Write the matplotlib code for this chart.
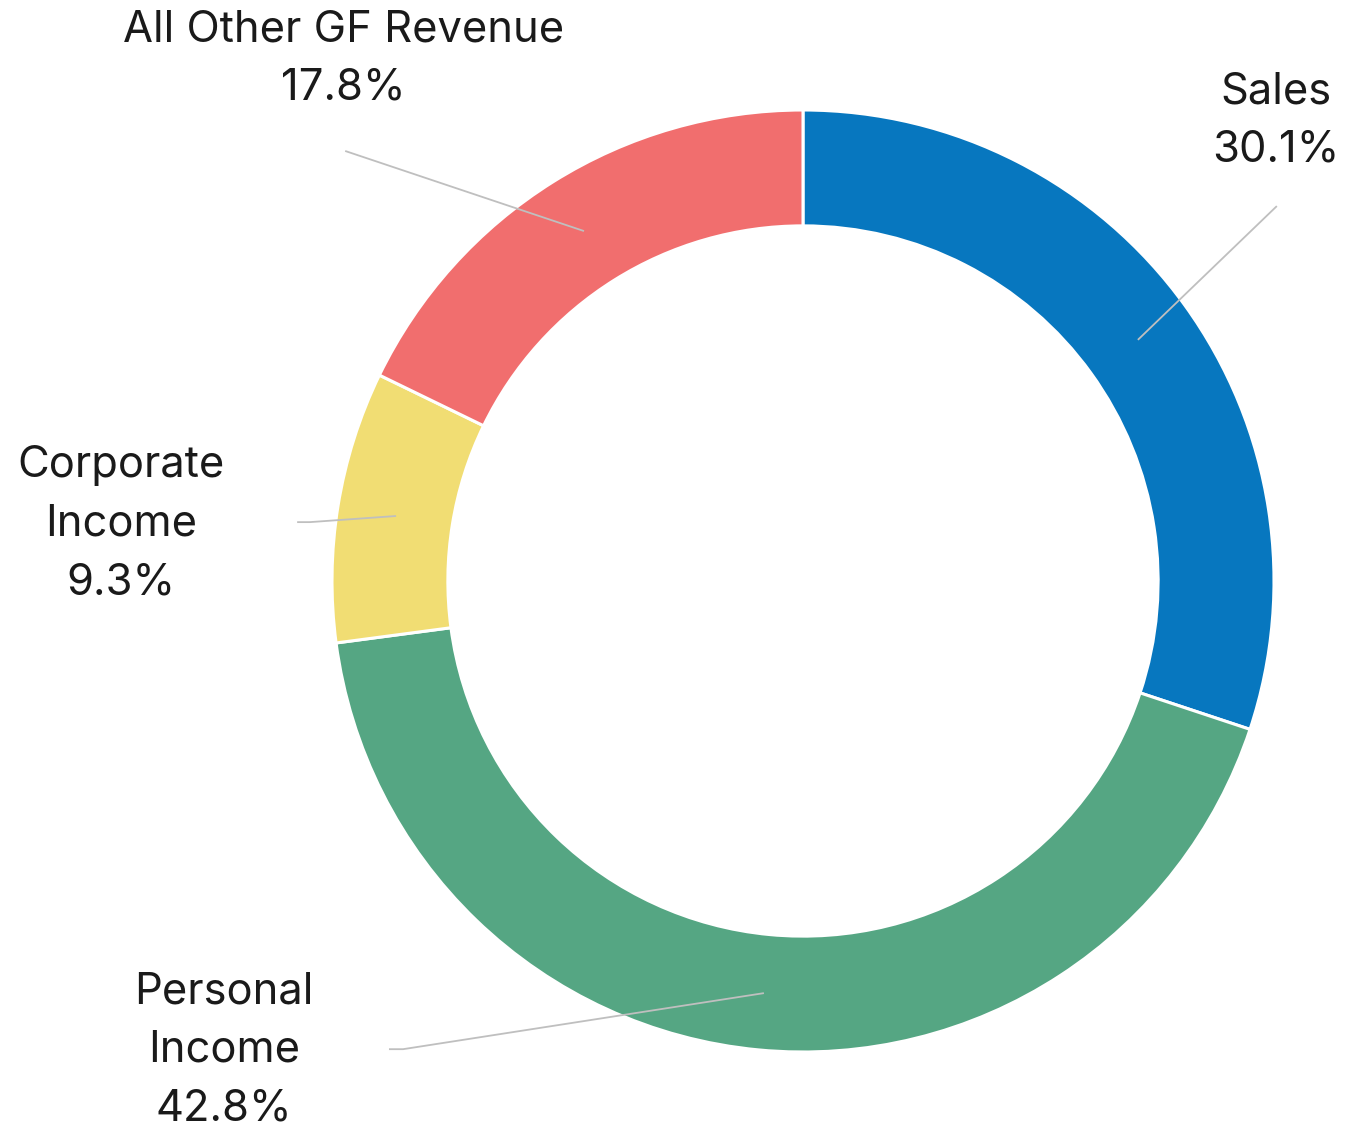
import matplotlib
matplotlib.use("Agg")
import matplotlib.pyplot as plt

categories = ["Sales", "Personal\nIncome", "Corporate\nIncome", "All Other GF Revenue"]
shares = [30.1, 42.8, 9.3, 17.8]
colors = ["#0777BF", "#55A683", "#F1DD73", "#F16E6E"]

# label anchor (data coords, outer radius = 1)
label_pos = [(1.004, 0.977), (-1.229, -0.996), (-1.448, 0.121), (-0.975, 1.108)]
leader_pts = [
    [(0.711, 0.512), (1.006, 0.796)],
    [(-0.083, -0.875), (-0.849, -0.994), (-0.879, -0.994)],
    [(-0.864, 0.138), (-1.047, 0.125), (-1.074, 0.125)],
    [(-0.465, 0.743), (-0.972, 0.913)],
]

plt.rcParams['font.family'] = ['Inter', 'DejaVu Sans']

fig = plt.figure(figsize=(13.66, 11.29), dpi=100)
ax = fig.add_axes([0, 0, 1, 1])
ax.pie(shares, colors=colors, startangle=90, counterclock=False, radius=1.0,
       wedgeprops=dict(width=0.246, edgecolor="white", linewidth=2.2))
ax.set_aspect("auto")
ax.set_xlim(-803/471, (1366-803)/471)
ax.set_ylim(-(1129-581)/471, 581/471)
ax.axis("off")

for cat, val, (lx, ly), pts in zip(categories, shares, label_pos, leader_pts):
    xs = [p[0] for p in pts]
    ys = [p[1] for p in pts]
    ax.plot(xs, ys, color="#BFBFBF", lw=1.3, solid_capstyle="butt")
    ax.text(lx, ly, f"{cat}\n{val:.1f}%", ha="center", va="center",
            fontsize=31.3, color="#1a1a1a", linespacing=1.55)

fig.savefig("out.png", dpi=100)
